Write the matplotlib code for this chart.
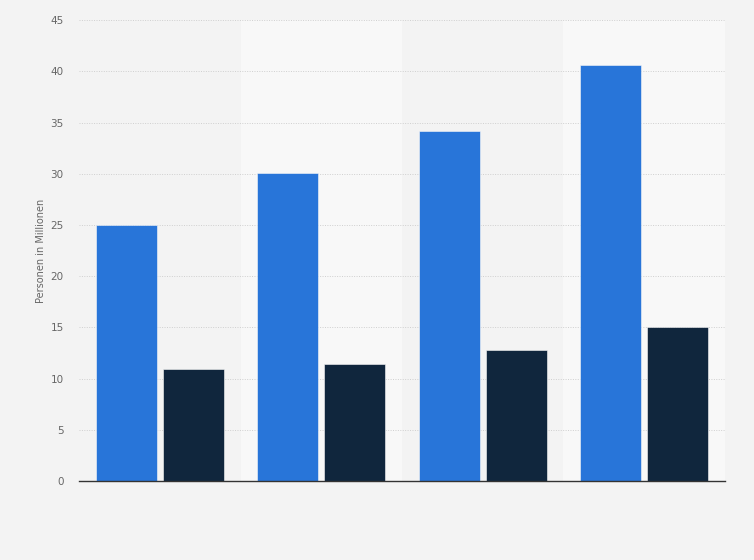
import matplotlib

matplotlib.use("Agg")
import matplotlib.pyplot as plt
import numpy as np

# four unlabeled groups, two series each (values in millions of persons)
groups = ["1", "2", "3", "4"]
series_a = [25.0, 30.1, 34.2, 40.6]
series_b = [10.9, 11.4, 12.8, 15.0]
y_ticks = [0, 5, 10, 15, 20, 25, 30, 35, 40, 45]

BG = "#f3f3f3"
BAND = "#f8f8f8"
BLUE = "#2875d9"
NAVY = "#10263d"

fig = plt.figure(figsize=(7.54, 5.6), dpi=100, facecolor=BG)
ax = fig.add_axes([0.1048, 0.141, 0.8567, 0.823])
ax.set_facecolor(BG)

x = np.arange(len(groups))
for i in x:
    if i % 2 == 1:
        ax.axvspan(i - 0.5, i + 0.5, color=BAND, lw=0, zorder=0)

w = 0.378
off = 0.207
ax.bar(x - off, series_a, w, color=BLUE, edgecolor="#f8f8f8", lw=0.4, zorder=3)
ax.bar(x + off, series_b, w, color=NAVY, edgecolor="#f8f8f8", lw=0.4, zorder=3)

ax.set_xlim(-0.5, len(groups) - 0.5)
ax.set_ylim(0, 45)
ax.set_yticks(y_ticks)
ax.set_xticks([])
ax.grid(axis="y", color="#cfcfcf", lw=0.7, ls=(0, (1, 1.5)), zorder=1)
ax.set_axisbelow(True)
for side in ("top", "right", "left"):
    ax.spines[side].set_visible(False)
ax.spines["bottom"].set_color("#333333")
ax.spines["bottom"].set_linewidth(1.0)
ax.spines["bottom"].set_zorder(4)
ax.tick_params(axis="y", length=0, pad=11, labelsize=7.5, labelcolor="#666666")
ax.set_ylabel("Personen in Millionen", fontsize=7, color="#666666", labelpad=3)

fig.savefig("out.png", dpi=100, facecolor=BG)
